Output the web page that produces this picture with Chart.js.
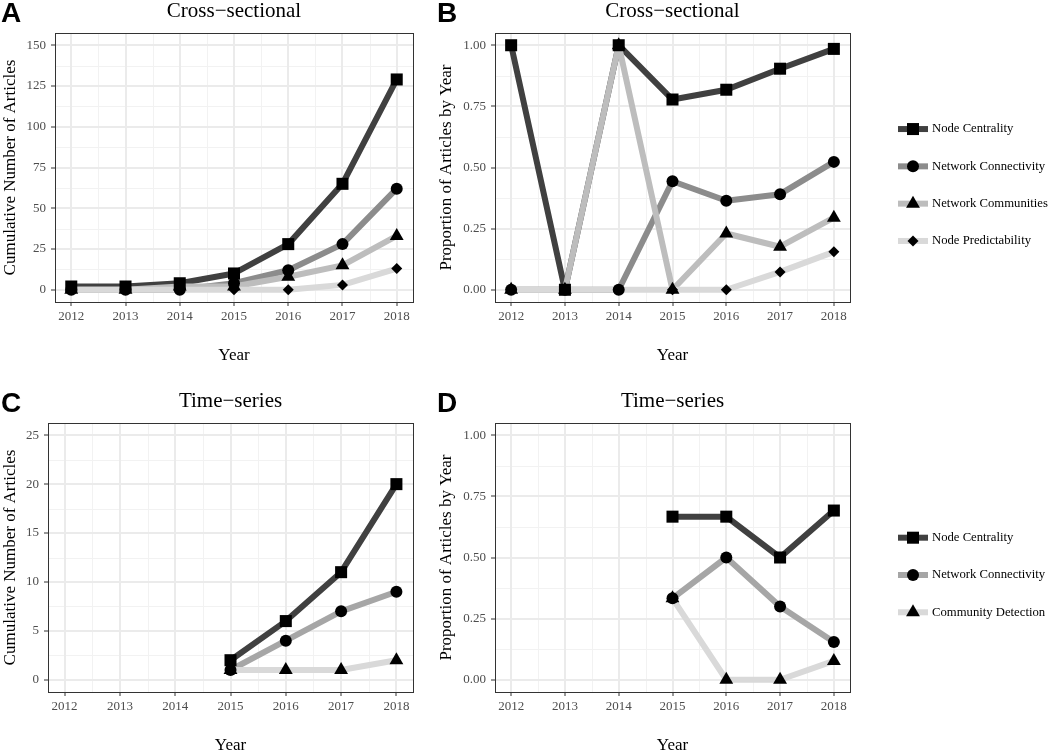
<!DOCTYPE html>
<html>
<head>
<meta charset="utf-8">
<script src="https://cdn.jsdelivr.net/npm/chart.js@4.4.1/dist/chart.umd.min.js"></script>
<style>
  html, body { margin: 0; padding: 0; background: #ffffff; overflow: hidden; }
  body { width: 1050px; height: 752px; position: relative; }
  canvas { position: absolute; }
</style>
</head>
<body>
<canvas id="panelA" width="436" height="390" style="left:0px;top:0px"></canvas>
<canvas id="panelB" width="614" height="390" style="left:436px;top:0px"></canvas>
<canvas id="panelC" width="436" height="390" style="left:0px;top:390px"></canvas>
<canvas id="panelD" width="614" height="390" style="left:436px;top:390px"></canvas>
<script>
// data
var years = [2012, 2013, 2014, 2015, 2016, 2017, 2018];

var crossNames = ["Node Centrality", "Network Connectivity", "Network Communities", "Node Predictability"];
var timeNames = ["Node Centrality", "Network Connectivity", "Community Detection"];

// A: cross-sectional, cumulative counts
var crossCumCentrality = [2, 2, 4, 10, 28, 65, 129];
var crossCumConnectivity = [0, 0, 0, 4, 12, 28, 62];
var crossCumCommunities = [0, 0, 2, 2, 8, 15, 33];
var crossCumPredictability = [0, 0, 0, 0, 0, 3, 13];

// B: cross-sectional, proportion by year
var crossPropCentrality = [1, 0, 1, 0.778, 0.818, 0.904, 0.985];
var crossPropConnectivity = [0, 0, 0, 0.444, 0.364, 0.391, 0.523];
var crossPropCommunities = [0, 0, 1, 0, 0.23, 0.176, 0.295];
var crossPropPredictability = [0, 0, 0, 0, 0, 0.073, 0.155];

// C: time-series, cumulative counts
var timeCumCentrality = [null, null, null, 2, 6, 11, 20];
var timeCumConnectivity = [null, null, null, 1, 4, 7, 9];
var timeCumDetection = [null, null, null, 1, 1, 1, 2];

// D: time-series, proportion by year
var timePropCentrality = [null, null, null, 0.667, 0.667, 0.5, 0.692];
var timePropConnectivity = [null, null, null, 0.333, 0.5, 0.3, 0.154];
var timePropDetection = [null, null, null, 0.333, 0, 0, 0.077];

var countTicks = [0, 25, 50, 75, 100, 125, 150];
var smallCountTicks = [0, 5, 10, 15, 20, 25];
var propTicks = [0, 0.25, 0.5, 0.75, 1];

var crossColors = ["#404040", "#8c8c8c", "#bdbdbd", "#d9d9d9"];
var timeColors = ["#404040", "#a6a6a6", "#d9d9d9"];
var shapes = ["rect", "circle", "triangle", "rectRot"];
var radii = [8.5, 6, 8, 5.5];

Chart.defaults.font.family = "'Liberation Serif', 'Times New Roman', serif";
Chart.defaults.color = "#4d4d4d";

function halves(ticks) {
  var out = [];
  for (var i = 0; i < ticks.length - 1; i++) {
    out.push((ticks[i] + ticks[i + 1]) / 2);
  }
  return out;
}

var panelPlugin = {
  id: "panel",
  beforeDraw: function (chart, args, opts) {
    var ctx = chart.ctx;
    var area = chart.chartArea;
    var xs = chart.scales.x;
    var ys = chart.scales.y;
    ctx.save();
    ctx.strokeStyle = "#f2f2f2";
    ctx.lineWidth = 1;
    halves(years).forEach(function (v) {
      var px = Math.round(xs.getPixelForValue(v)) + 0.5;
      ctx.beginPath();
      ctx.moveTo(px, area.top);
      ctx.lineTo(px, area.bottom);
      ctx.stroke();
    });
    halves(opts.yTicks).forEach(function (v) {
      var py = Math.round(ys.getPixelForValue(v)) + 0.5;
      ctx.beginPath();
      ctx.moveTo(area.left, py);
      ctx.lineTo(area.right, py);
      ctx.stroke();
    });
    ctx.restore();
  },
  afterDraw: function (chart, args, opts) {
    var ctx = chart.ctx;
    var area = chart.chartArea;
    ctx.save();
    // panel border
    ctx.strokeStyle = "#333333";
    ctx.lineWidth = 1;
    ctx.strokeRect(Math.round(area.left) + 0.5, Math.round(area.top) + 0.5,
      Math.round(area.right - area.left), Math.round(area.bottom - area.top));
    // panel letter
    ctx.fillStyle = "#000000";
    ctx.font = "bold 28px 'Liberation Sans', Arial, sans-serif";
    ctx.textAlign = "left";
    ctx.textBaseline = "alphabetic";
    ctx.fillText(opts.letter, 1, 22);
    // title
    ctx.font = "21px 'Liberation Serif', 'Times New Roman', serif";
    ctx.textAlign = "center";
    ctx.fillText(opts.title, (area.left + area.right) / 2, 17);
    // legend
    if (opts.legend) {
      var n = opts.legend.length;
      var step = 37.3;
      var y0 = 185 - (n - 1) * step / 2;
      var kx = area.right + 48;
      opts.legend.forEach(function (item, i) {
        var y = y0 + i * step;
        ctx.strokeStyle = item.color;
        ctx.lineWidth = 6;
        ctx.lineCap = "butt";
        ctx.beginPath();
        ctx.moveTo(kx, y);
        ctx.lineTo(kx + 30, y);
        ctx.stroke();
        ctx.fillStyle = "#000000";
        Chart.helpers.drawPoint(ctx, { pointStyle: item.shape, radius: item.radius, rotation: 0, borderWidth: 0 }, kx + 15, y);
        ctx.font = "12.7px 'Liberation Serif', 'Times New Roman', serif";
        ctx.textAlign = "left";
        ctx.textBaseline = "middle";
        ctx.fillText(item.name, kx + 34, y);
      });
    }
    ctx.restore();
  },
};

function make_datasets(series, colors) {
  var lines = [];
  var points = [];
  series.forEach(function (values, i) {
    var data = [];
    values.forEach(function (v, k) {
      if (v !== null) {
        data.push({ x: years[k], y: v });
      }
    });
    lines.push({
      data: data,
      borderColor: colors[i],
      borderWidth: 6,
      borderJoinStyle: "round",
      pointRadius: 0,
      tension: 0,
      order: 10 - i,
    });
    points.push({
      data: data,
      showLine: false,
      pointStyle: shapes[i],
      pointRadius: radii[i],
      pointBackgroundColor: "#000000",
      pointBorderWidth: 0,
      order: -i,
    });
  });
  return lines.concat(points);
}

function make_chart(id, cfg) {
  var yPad = (cfg.yMax - cfg.yMin) * 0.05;
  var config = {
    type: "line",
    data: { datasets: make_datasets(cfg.series, cfg.colors) },
    plugins: [panelPlugin],
    options: {
      responsive: false,
      animation: false,
      events: [],
      layout: { padding: { top: 33, right: cfg.right, bottom: 0, left: 0 } },
      scales: {
        x: {
          type: "linear",
          min: 2011.7,
          max: 2018.3,
          afterBuildTicks: function (scale) {
            scale.ticks = years.map(function (v) { return { value: v }; });
          },
          afterFit: function (scale) { scale.height = 88; },
          ticks: {
            callback: function (v) { return String(v); },
            color: "#4d4d4d",
            font: { size: 13 },
            padding: 3,
            maxRotation: 0,
            autoSkip: false,
          },
          grid: { color: "#ebebeb", lineWidth: 2, tickColor: "#333333", tickLength: 4, tickWidth: 1 },
          border: { display: false },
          title: { display: true, text: "Year", color: "#000000", font: { size: 17 }, padding: { top: 0, bottom: 24 } },
        },
        y: {
          type: "linear",
          min: cfg.yMin - yPad,
          max: cfg.yMax + yPad,
          afterBuildTicks: function (scale) {
            scale.ticks = cfg.yTicks.map(function (v) { return { value: v }; });
          },
          afterFit: function (scale) { scale.width = cfg.yWidth; },
          ticks: {
            callback: function (v) { return cfg.digits ? v.toFixed(cfg.digits) : String(v); },
            color: "#4d4d4d",
            font: { size: 13 },
            padding: 5,
          },
          grid: { color: "#ebebeb", lineWidth: 2, tickColor: "#333333", tickLength: 4, tickWidth: 1 },
          border: { display: false },
          title: { display: true, text: cfg.yTitle, color: "#000000", font: { size: 17 }, padding: { top: 0, bottom: 0 } },
        },
      },
      plugins: {
        legend: { display: false },
        tooltip: { enabled: false },
        panel: {
          letter: cfg.letter,
          title: cfg.title,
          yTicks: cfg.yTicks,
          legend: cfg.legend,
        },
      },
    },
  };
  var ctx = document.getElementById(id).getContext("2d");
  return new Chart(ctx, config);
}

function legend_items(names, colors) {
  return names.map(function (name, i) {
    return { name: name, color: colors[i], shape: shapes[i], radius: radii[i] };
  });
}

make_chart("panelA", {
  letter: "A", title: "Cross\u2212sectional",
  series: [crossCumCentrality, crossCumConnectivity, crossCumCommunities, crossCumPredictability],
  colors: crossColors,
  yMin: 0, yMax: 150, yTicks: countTicks, digits: 0,
  yTitle: "Cumulative Number of Articles", yWidth: 55, right: 23,
});

make_chart("panelB", {
  letter: "B", title: "Cross\u2212sectional",
  series: [crossPropCentrality, crossPropConnectivity, crossPropCommunities, crossPropPredictability],
  colors: crossColors,
  yMin: 0, yMax: 1, yTicks: propTicks, digits: 2,
  yTitle: "Proportion of Articles by Year", yWidth: 59, right: 200,
  legend: legend_items(crossNames, crossColors),
});

make_chart("panelC", {
  letter: "C", title: "Time\u2212series",
  series: [timeCumCentrality, timeCumConnectivity, timeCumDetection],
  colors: timeColors,
  yMin: 0, yMax: 25, yTicks: smallCountTicks, digits: 0,
  yTitle: "Cumulative Number of Articles", yWidth: 48, right: 23,
});

make_chart("panelD", {
  letter: "D", title: "Time\u2212series",
  series: [timePropCentrality, timePropConnectivity, timePropDetection],
  colors: timeColors,
  yMin: 0, yMax: 1, yTicks: propTicks, digits: 2,
  yTitle: "Proportion of Articles by Year", yWidth: 59, right: 200,
  legend: legend_items(timeNames, timeColors),
});
</script>
</body>
</html>
